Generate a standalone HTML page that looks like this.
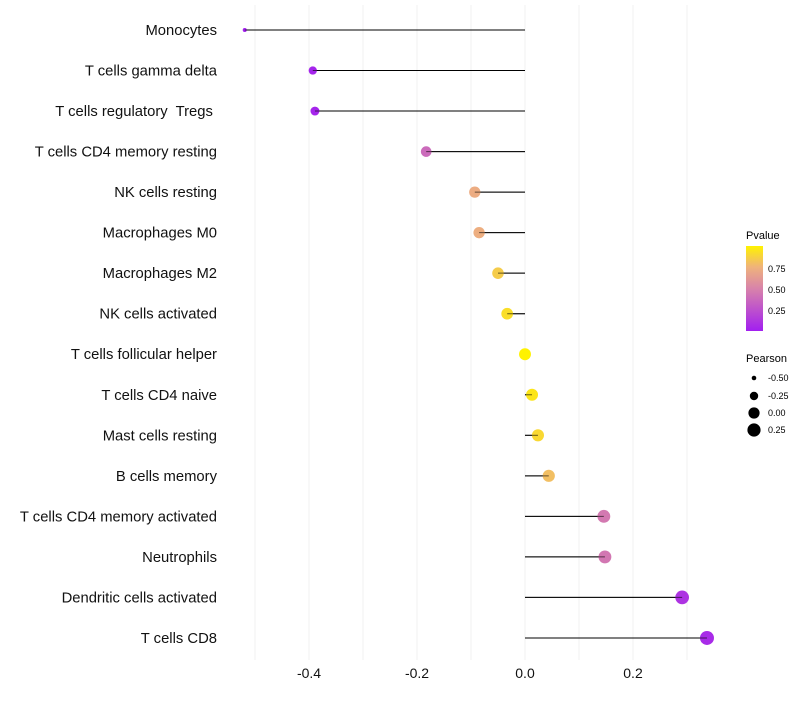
<!DOCTYPE html>
<html><head><meta charset="utf-8"><style>
body{margin:0;background:#fff;font-family:"Liberation Sans",sans-serif;}
svg text{font-family:"Liberation Sans",sans-serif;}
</style></head><body>
<svg id="chart" width="800" height="700" xmlns="http://www.w3.org/2000/svg">
<defs>
<linearGradient id="pgrad" x1="0" y1="1" x2="0" y2="0">
<stop offset="0" stop-color="#A21FF0"/><stop offset="0.5" stop-color="#D883AA"/>
<stop offset="0.75" stop-color="#EFB27C"/><stop offset="1" stop-color="#FFF200"/>
</linearGradient>
</defs>
<g id="grid"></g><g id="marks"></g><g id="labels"></g>
<g>
<text x="746" y="239" font-size="11">Pvalue</text>
<rect x="746" y="246" width="17" height="85" fill="url(#pgrad)"/>
<text x="768" y="272" font-size="9">0.75</text>
<text x="768" y="293" font-size="9">0.50</text>
<text x="768" y="314" font-size="9">0.25</text>
</g>
<g>
<text x="746" y="362" font-size="11">Pearson</text>
<circle cx="754" cy="378" r="2.3" fill="#000"/>
<text x="768" y="381" font-size="9">-0.50</text>
<circle cx="754" cy="396" r="4.2" fill="#000"/>
<text x="768" y="399" font-size="9">-0.25</text>
<circle cx="754" cy="413" r="5.6" fill="#000"/>
<text x="768" y="416" font-size="9">0.00</text>
<circle cx="754" cy="430" r="6.6" fill="#000"/>
<text x="768" y="433" font-size="9">0.25</text>
</g>
</svg>
<script>
const cells = ["Monocytes","T cells gamma delta","T cells regulatory\u00a0 Tregs\u00a0","T cells CD4 memory resting","NK cells resting","Macrophages M0","Macrophages M2","NK cells activated","T cells follicular helper","T cells CD4 naive","Mast cells resting","B cells memory","T cells CD4 memory activated","Neutrophils","Dendritic cells activated","T cells CD8"];
const pearson = [-0.519,-0.393,-0.389,-0.183,-0.093,-0.085,-0.050,-0.033,0.000,0.013,0.024,0.044,0.146,0.148,0.291,0.337];
const pvalues = [0.01,0.03,0.03,0.38,0.72,0.73,0.85,0.92,1.00,0.95,0.90,0.80,0.45,0.44,0.10,0.06];
const xTicks = [-0.4,-0.2,0.0,0.2];
const xTickLabels = ["-0.4","-0.2","0.0","0.2"];
const gridVals = [-0.5,-0.4,-0.3,-0.2,-0.1,0,0.1,0.2,0.3];

const NS="http://www.w3.org/2000/svg";
const xs = v => 525 + v*540;
const ys = i => 30 + i*40.53;
function rs(p){ if(p < -0.39){ const t=(p+0.52)/0.13; return 2 + t*2.2; } return Math.sqrt(35.5 + 40*p); }
const stops=[[0,[162,31,240]],[0.5,[216,131,170]],[0.75,[239,178,124]],[1,[255,242,0]]];
function col(p){p=Math.max(0,Math.min(1,p));for(let k=1;k<stops.length;k++){if(p<=stops[k][0]){const a=stops[k-1],b=stops[k],t=(p-a[0])/(b[0]-a[0]);return 'rgb('+a[1].map((c,j)=>Math.round(c+(b[1][j]-c)*t)).join(',')+')';}}return 'rgb(255,242,0)';}
function mk(tag,attrs,parent){const e=document.createElementNS(NS,tag);for(const k in attrs)e.setAttribute(k,attrs[k]);parent.appendChild(e);return e;}
const grid=document.getElementById('grid'),marks=document.getElementById('marks'),labels=document.getElementById('labels');
gridVals.forEach(v=>{const l=mk('line',{x1:xs(v),x2:xs(v),y1:5,y2:660,stroke:'#f0f0f0','stroke-width':1},grid);

});
xTicks.forEach((v,i)=>{const t=mk('text',{x:xs(v),y:678,'font-size':14,'text-anchor':'middle',fill:'#111'},labels);t.textContent=xTickLabels[i];

});
cells.forEach((c,i)=>{
const y=ys(i);
const t=mk('text',{x:217,y:y+5,'font-size':14.8,'text-anchor':'end',fill:'#111'},labels);t.textContent=c;


const ln=mk('line',{x1:xs(0),x2:xs(pearson[i]),y1:y,y2:y,stroke:'#000','stroke-width':1},marks);


const dot=mk('circle',{cx:xs(pearson[i]),cy:y,r:rs(pearson[i]),fill:col(pvalues[i])},marks);


const ln2=mk('line',{x1:xs(0),x2:xs(pearson[i]),y1:y,y2:y,stroke:'#000','stroke-width':1,'stroke-opacity':0.6},marks);


});
</script>
</body></html>
